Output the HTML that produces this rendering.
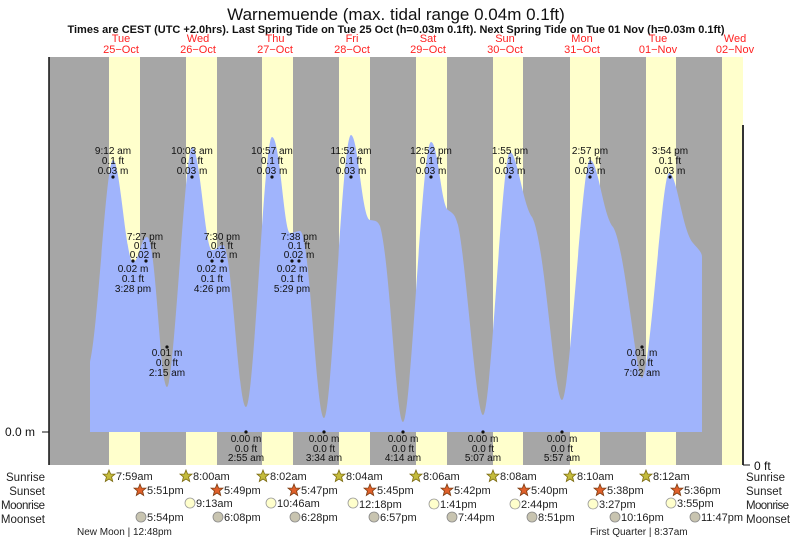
<!DOCTYPE html>
<html><head><meta charset="utf-8"><style>
html,body{margin:0;padding:0;background:#fff;width:793px;height:539px;overflow:hidden}
svg{display:block;font-family:"Liberation Sans",sans-serif}
</style></head><body>
<svg width="793" height="539" viewBox="0 0 793 539">
<text x="396" y="20" font-size="17" text-anchor="middle" fill="#111">Warnemuende (max. tidal range 0.04m 0.1ft)</text>
<text x="396" y="33" font-size="11" font-weight="bold" text-anchor="middle" fill="#111">Times are CEST (UTC +2.0hrs). Last Spring Tide on Tue 25 Oct (h=0.03m 0.1ft). Next Spring Tide on Tue 01 Nov (h=0.03m 0.1ft)</text>
<g font-size="11" fill="#f22" text-anchor="middle">
<text x="121" y="42">Tue</text><text x="121" y="53">25−Oct</text>
<text x="198" y="42">Wed</text><text x="198" y="53">26−Oct</text>
<text x="275" y="42">Thu</text><text x="275" y="53">27−Oct</text>
<text x="352" y="42">Fri</text><text x="352" y="53">28−Oct</text>
<text x="428" y="42">Sat</text><text x="428" y="53">29−Oct</text>
<text x="505" y="42">Sun</text><text x="505" y="53">30−Oct</text>
<text x="582" y="42">Mon</text><text x="582" y="53">31−Oct</text>
<text x="658" y="42">Tue</text><text x="658" y="53">01−Nov</text>
<text x="735" y="42">Wed</text><text x="735" y="53">02−Nov</text>
</g>
<rect x="49" y="57" width="694" height="408" fill="#a6a6a6"/>
<g fill="#ffffcc">
<rect x="109" y="57" width="31" height="408"/><rect x="186" y="57" width="31" height="408"/>
<rect x="262" y="57" width="31" height="408"/><rect x="339" y="57" width="31" height="408"/>
<rect x="416" y="57" width="31" height="408"/><rect x="493" y="57" width="30" height="408"/>
<rect x="570" y="57" width="30" height="408"/><rect x="646" y="57" width="30" height="408"/>
<rect x="722" y="57" width="21" height="408"/>
</g>
<path fill="#a0b4fc" d="M90,432 L90,362 C98,330 106,160 113,160 C120,160 126,262 133,262 C139,262 141,237 147,237 C156,237 160,387 167,387 C174,387 185,147 192,147 C200,147 205,250 212,250 C217,250 219,245 223,245 C232,245 238,407 246,407 C254,407 264,137 272,137 C280,137 284,233 290,233 C294,233 296,231 300,231 C310,231 316,418 324,418 C332,418 342,135 351,135 C358,135 362,219 370,220 C375,221 377,220 380,226 C390,260 396,422 403,422 C411,422 422,142 431,142 C438,142 441,205 448,210 C454,214 455,215 458,225 C466,260 476,415 483,415 C491,415 502,152 510,152 C517,152 523,205 532,217 C545,240 554,400 562,400 C570,400 582,160 590,160 C598,160 603,215 613,227 C625,245 636,378 642,378 C650,378 662,173 669,173 C677,173 682,230 693,243 C698,249 702,252 702,257 L702,432 Z"/>
<line x1="49" y1="57" x2="49" y2="465" stroke="#111" stroke-width="1.5"/>
<line x1="743" y1="125" x2="743" y2="465" stroke="#333" stroke-width="2"/>
<line x1="42" y1="432" x2="49" y2="432" stroke="#111"/>
<line x1="743" y1="465" x2="750" y2="465" stroke="#111"/>
<text x="5" y="436" font-size="12" fill="#111">0.0 m</text>
<text x="754" y="470" font-size="12" fill="#111">0 ft</text>
<g font-size="10" fill="#111" text-anchor="middle">
<g>
<text x="113" y="154">9:12 am</text><text x="113" y="164">0.1 ft</text><text x="113" y="174">0.03 m</text><circle cx="113" cy="177" r="1.6"/>
<text x="192" y="154">10:03 am</text><text x="192" y="164">0.1 ft</text><text x="192" y="174">0.03 m</text><circle cx="192" cy="177" r="1.6"/>
<text x="272" y="154">10:57 am</text><text x="272" y="164">0.1 ft</text><text x="272" y="174">0.03 m</text><circle cx="272" cy="177" r="1.6"/>
<text x="351" y="154">11:52 am</text><text x="351" y="164">0.1 ft</text><text x="351" y="174">0.03 m</text><circle cx="351" cy="177" r="1.6"/>
<text x="431" y="154">12:52 pm</text><text x="431" y="164">0.1 ft</text><text x="431" y="174">0.03 m</text><circle cx="431" cy="177" r="1.6"/>
<text x="510" y="154">1:55 pm</text><text x="510" y="164">0.1 ft</text><text x="510" y="174">0.03 m</text><circle cx="510" cy="177" r="1.6"/>
<text x="590" y="154">2:57 pm</text><text x="590" y="164">0.1 ft</text><text x="590" y="174">0.03 m</text><circle cx="590" cy="177" r="1.6"/>
<text x="670" y="154">3:54 pm</text><text x="670" y="164">0.1 ft</text><text x="670" y="174">0.03 m</text><circle cx="670" cy="177" r="1.6"/>
</g>
<text x="145" y="240">7:27 pm</text><text x="145" y="249">0.1 ft</text><text x="145" y="258">0.02 m</text>
<circle cx="133" cy="261" r="1.6"/><circle cx="146" cy="261" r="1.6"/>
<text x="133" y="272">0.02 m</text><text x="133" y="282">0.1 ft</text><text x="133" y="292">3:28 pm</text>
<text x="222" y="240">7:30 pm</text><text x="222" y="249">0.1 ft</text><text x="222" y="258">0.02 m</text>
<circle cx="212" cy="261" r="1.6"/><circle cx="222" cy="261" r="1.6"/>
<text x="212" y="272">0.02 m</text><text x="212" y="282">0.1 ft</text><text x="212" y="292">4:26 pm</text>
<text x="299" y="240">7:38 pm</text><text x="299" y="249">0.1 ft</text><text x="299" y="258">0.02 m</text>
<circle cx="292" cy="261" r="1.6"/><circle cx="299" cy="261" r="1.6"/>
<text x="292" y="272">0.02 m</text><text x="292" y="282">0.1 ft</text><text x="292" y="292">5:29 pm</text>
<circle cx="167" cy="347" r="1.6"/><text x="167" y="356">0.01 m</text><text x="167" y="366">0.0 ft</text><text x="167" y="376">2:15 am</text>
<circle cx="642" cy="347" r="1.6"/><text x="642" y="356">0.01 m</text><text x="642" y="366">0.0 ft</text><text x="642" y="376">7:02 am</text>
<circle cx="246" cy="432" r="1.6"/><text x="246" y="442">0.00 m</text><text x="246" y="452">0.0 ft</text><text x="246" y="461">2:55 am</text>
<circle cx="324" cy="432" r="1.6"/><text x="324" y="442">0.00 m</text><text x="324" y="452">0.0 ft</text><text x="324" y="461">3:34 am</text>
<circle cx="403" cy="432" r="1.6"/><text x="403" y="442">0.00 m</text><text x="403" y="452">0.0 ft</text><text x="403" y="461">4:14 am</text>
<circle cx="483" cy="432" r="1.6"/><text x="483" y="442">0.00 m</text><text x="483" y="452">0.0 ft</text><text x="483" y="461">5:07 am</text>
<circle cx="562" cy="432" r="1.6"/><text x="562" y="442">0.00 m</text><text x="562" y="452">0.0 ft</text><text x="562" y="461">5:57 am</text>
</g>
<g font-size="11.5" fill="#222">
<text x="45" y="481" text-anchor="end">Sunrise</text><text x="45" y="495" text-anchor="end">Sunset</text>
<text x="45" y="509" text-anchor="end" textLength="44">Moonrise</text><text x="45" y="523" text-anchor="end">Moonset</text>
<text x="746" y="481">Sunrise</text><text x="746" y="495">Sunset</text>
<text x="746" y="509" textLength="43">Moonrise</text><text x="746" y="523">Moonset</text>
</g>
<defs>
<polygon id="st" points="0,-6 1.6,-2 6,-1.9 2.6,1 3.7,5.5 0,3 -3.7,5.5 -2.6,1 -6,-1.9 -1.6,-2"/>
</defs>
<g font-size="11" fill="#222">
<g fill="#c4bb3c" stroke="#7a6a10" stroke-width="0.8">
<use href="#st" x="109" y="476"/><use href="#st" x="186" y="476"/><use href="#st" x="263" y="476"/><use href="#st" x="339" y="476"/>
<use href="#st" x="416" y="476"/><use href="#st" x="493" y="476"/><use href="#st" x="570" y="476"/><use href="#st" x="646" y="476"/>
</g>
<g fill="#e0602a" stroke="#7a3a10" stroke-width="0.8">
<use href="#st" x="140" y="490"/><use href="#st" x="217" y="490"/><use href="#st" x="294" y="490"/><use href="#st" x="370" y="490"/>
<use href="#st" x="447" y="490"/><use href="#st" x="524" y="490"/><use href="#st" x="600" y="490"/><use href="#st" x="677" y="490"/>
</g>
<g fill="#ffffcc" stroke="#999" stroke-width="0.8">
<circle cx="190" cy="503" r="5"/><circle cx="271" cy="503" r="5"/><circle cx="353" cy="503" r="5"/><circle cx="434" cy="504" r="5"/>
<circle cx="515" cy="504" r="5"/><circle cx="593" cy="504" r="5"/><circle cx="671" cy="503" r="5"/>
</g>
<g fill="#c8c4b0" stroke="#888" stroke-width="0.8">
<circle cx="141" cy="517" r="5"/><circle cx="218" cy="517" r="5"/><circle cx="295" cy="517" r="5"/><circle cx="374" cy="517" r="5"/>
<circle cx="452" cy="517" r="5"/><circle cx="532" cy="517" r="5"/><circle cx="615" cy="517" r="5"/><circle cx="695" cy="517" r="5"/>
</g>
<text x="116" y="480">7:59am</text><text x="193" y="480">8:00am</text><text x="270" y="480">8:02am</text><text x="346" y="480">8:04am</text>
<text x="423" y="480">8:06am</text><text x="500" y="480">8:08am</text><text x="577" y="480">8:10am</text><text x="653" y="480">8:12am</text>
<text x="147" y="494">5:51pm</text><text x="224" y="494">5:49pm</text><text x="301" y="494">5:47pm</text><text x="377" y="494">5:45pm</text>
<text x="454" y="494">5:42pm</text><text x="531" y="494">5:40pm</text><text x="607" y="494">5:38pm</text><text x="684" y="494">5:36pm</text>
<text x="196" y="507">9:13am</text><text x="277" y="507">10:46am</text><text x="359" y="508">12:18pm</text><text x="440" y="508">1:41pm</text>
<text x="521" y="508">2:44pm</text><text x="599" y="508">3:27pm</text><text x="677" y="507">3:55pm</text>
<text x="147" y="521">5:54pm</text><text x="224" y="521">6:08pm</text><text x="301" y="521">6:28pm</text><text x="380" y="521">6:57pm</text>
<text x="458" y="521">7:44pm</text><text x="538" y="521">8:51pm</text><text x="621" y="521">10:16pm</text><text x="701" y="521">11:47pm</text>
<text x="77" y="535" font-size="10">New Moon | 12:48pm</text>
<text x="590" y="535" font-size="10">First Quarter | 8:37am</text>
</g>
</svg>
</body></html>
